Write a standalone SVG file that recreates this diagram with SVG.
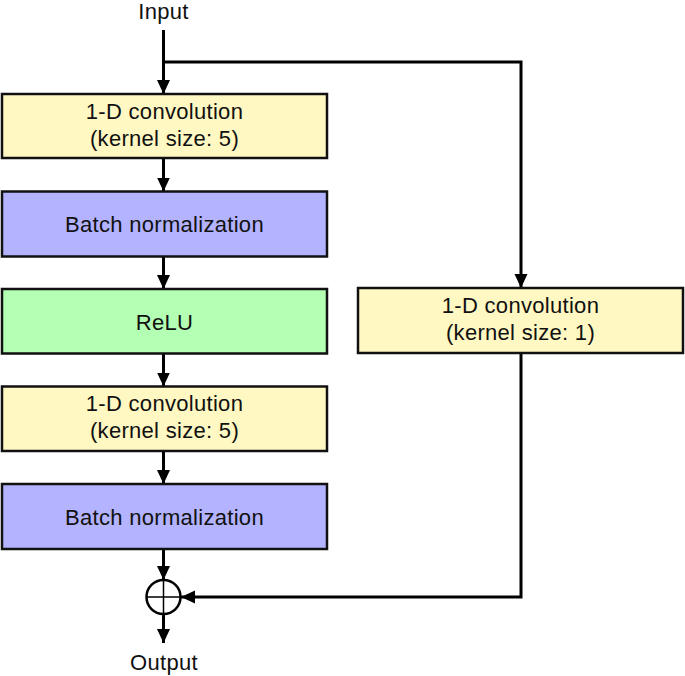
<svg xmlns="http://www.w3.org/2000/svg" width="685" height="676" viewBox="0 0 685 676">
<style>
  .box { stroke: #111; stroke-width: 2.5; }
  .conv { fill: #fff8c2; }
  .bn { fill: #b3b3ff; }
  .relu { fill: #b3ffb3; }
  text { font-family: "Liberation Sans", Arial, sans-serif; font-size: 22px; letter-spacing: 0.3px; fill: #111; text-anchor: middle; }
  .wire { fill: none; stroke: #000; stroke-width: 3; }
</style>
<defs>
  <marker id="arrow" markerUnits="userSpaceOnUse" markerWidth="14" markerHeight="16" refX="14" refY="6.5" orient="auto" viewBox="0 0 14 13">
    <path d="M0,0 L14,6.5 L0,13 Z" fill="#000"/>
  </marker>
</defs>
<g id="connectors">
  <path class="wire" d="M163.5,30 V94" marker-end="url(#arrow)"/>
  <path class="wire" d="M163.5,62 H521 V288" marker-end="url(#arrow)"/>
  <path class="wire" d="M163.5,158 V191.5" marker-end="url(#arrow)"/>
  <path class="wire" d="M163.5,256.5 V289" marker-end="url(#arrow)"/>
  <path class="wire" d="M163.5,353.5 V386.5" marker-end="url(#arrow)"/>
  <path class="wire" d="M163.5,451 V484" marker-end="url(#arrow)"/>
  <path class="wire" d="M163.5,549 V580" marker-end="url(#arrow)"/>
  <path class="wire" d="M521,353 V597 H181" marker-end="url(#arrow)"/>
  <path class="wire" d="M163.5,614 V643" marker-end="url(#arrow)"/>
</g>
<g id="input"><text x="163.5" y="19">Input</text></g>
<g id="conv1">
  <rect class="box conv" x="2" y="94" width="325" height="64"/>
  <text x="164.5" y="118.5">1-D convolution</text>
  <text x="164.5" y="145.5">(kernel size: 5)</text>
</g>
<g id="bn1">
  <rect class="box bn" x="2" y="191.5" width="325" height="65"/>
  <text x="164.5" y="232.3">Batch normalization</text>
</g>
<g id="relu">
  <rect class="box relu" x="2" y="289" width="325" height="64.5"/>
  <text x="164.5" y="329.5">ReLU</text>
</g>
<g id="conv2">
  <rect class="box conv" x="2" y="386.5" width="325" height="64.5"/>
  <text x="164.5" y="411">1-D convolution</text>
  <text x="164.5" y="438">(kernel size: 5)</text>
</g>
<g id="bn2">
  <rect class="box bn" x="2" y="484" width="325" height="65"/>
  <text x="164.5" y="524.5">Batch normalization</text>
</g>
<g id="conv_skip">
  <rect class="box conv" x="358" y="288" width="325" height="65"/>
  <text x="520.5" y="313">1-D convolution</text>
  <text x="520.5" y="340">(kernel size: 1)</text>
</g>
<g id="add">
  <circle cx="163.5" cy="597" r="17" fill="#fff" stroke="#000" stroke-width="2.5"/>
  <path d="M146.5,597 H180.5 M163.5,580 V614" stroke="#000" stroke-width="1.5"/>
</g>
<g id="output"><text x="164" y="670">Output</text></g>
</svg>
